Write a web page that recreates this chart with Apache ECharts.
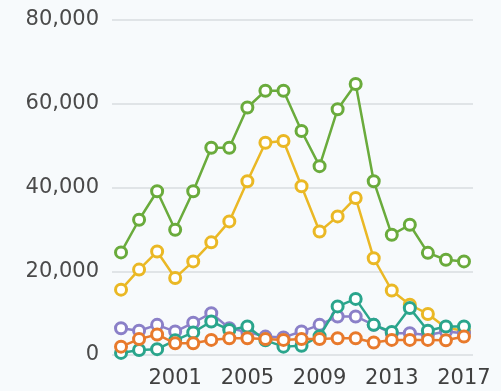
<!DOCTYPE html>
<html>
<head>
<meta charset="utf-8">
<script src="https://cdn.jsdelivr.net/npm/echarts@6/dist/echarts.min.js"></script>
<style>
  html, body { margin: 0; padding: 0; background: #f7fafc; }
  #chart { width: 501px; height: 391px; }
</style>
</head>
<body>
<div id="chart"></div>
<script>
const years = ['1998', '1999', '2000', '2001', '2002', '2003', '2004', '2005', '2006', '2007',
  '2008', '2009', '2010', '2011', '2012', '2013', '2014', '2015', '2016', '2017'];
const green = [24500, 32300, 39100, 29900, 39100, 49500, 49500, 59100, 63100, 63100,
  53500, 45100, 58700, 64700, 41500, 28700, 31100, 24400, 22750, 22350];
const yellow = [15600, 20400, 24700, 18400, 22350, 26900, 31900, 41500, 50700, 51100,
  40300, 29500, 33100, 37500, 23100, 15400, 12000, 9800, 6500, 5800];
const purple = [6400, 5800, 7200, 5600, 7700, 10000, 6400, 5500, 4400, 4200,
  5600, 7200, 9200, 9200, 7200, 5200, 5200, 4800, 5600, 5200];
const teal = [500, 1200, 1400, 3500, 5400, 8000, 6000, 6800, 3500, 2000,
  2200, 4500, 11600, 13400, 7200, 5500, 11200, 5800, 6800, 6800];
const orange = [2000, 3800, 4900, 2800, 2800, 3600, 4000, 4000, 3800, 3600,
  3800, 3800, 4000, 4000, 3000, 3600, 3600, 3600, 3500, 4400];

function line(data, color, z) {
  return {
    type: 'line',
    data: data,
    z: z,
    symbol: 'circle',
    symbolSize: 11,
    lineStyle: { color: color, width: 2.5 },
    itemStyle: { color: '#ffffff', borderColor: color, borderWidth: 3 },
  };
}

const chart = echarts.init(document.getElementById('chart'));
chart.setOption({
  backgroundColor: '#f7fafc',
  animation: false,
  grid: { left: 112, right: 28, top: 20, bottom: 36 },
  xAxis: {
    type: 'category',
    data: years,
    boundaryGap: true,
    axisLine: { show: false },
    axisTick: { show: false },
    axisLabel: {
      interval: (index) => index % 4 === 3,
      color: '#404040',
      fontFamily: 'DejaVu Sans',
      fontSize: 21,
      margin: 13,
    },
  },
  yAxis: {
    type: 'value',
    min: 0,
    max: 80000,
    interval: 20000,
    axisLine: { show: false },
    axisTick: { show: false },
    splitLine: { lineStyle: { color: '#d8dce0', width: 1.5 } },
    axisLabel: {
      color: '#4a4a4a',
      fontFamily: 'DejaVu Sans',
      fontSize: 21,
      margin: 13,
      formatter: (v) => v.toLocaleString('en-US'),
    },
  },
  series: [
    line(yellow, '#eab825', 2),
    line(purple, '#8b80c8', 3),
    line(teal, '#2aa58c', 4),
    line(orange, '#e87a2c', 5),
    line(green, '#6aab3c', 6),
  ],
});
</script>
</body>
</html>
